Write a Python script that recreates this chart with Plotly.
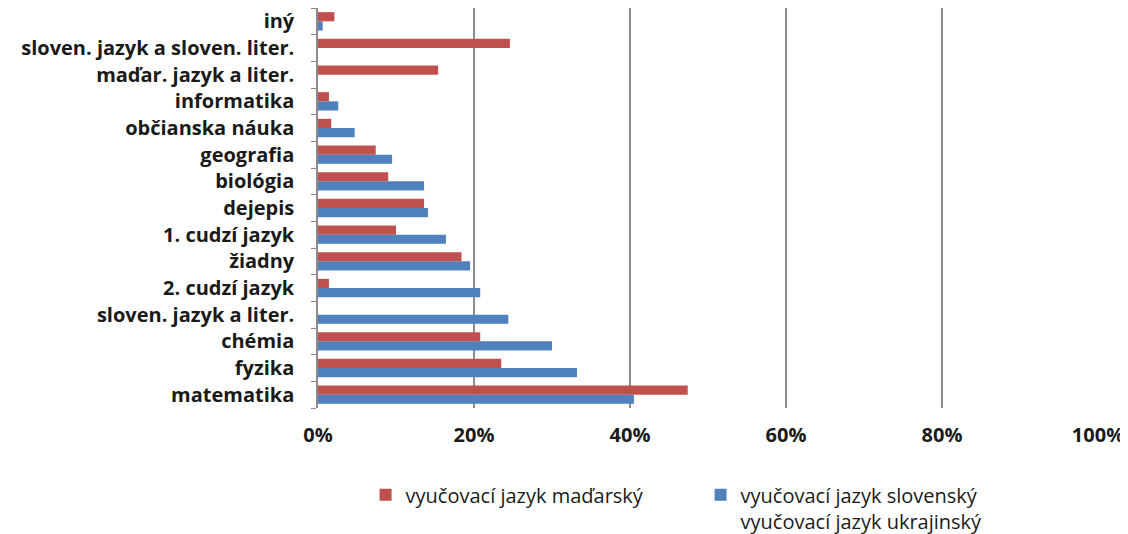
import plotly.graph_objects as go

categories = ["matematika", "fyzika", "chémia", "sloven. jazyk a liter.", "2. cudzí jazyk",
              "žiadny", "1. cudzí jazyk", "dejepis", "biológia", "geografia",
              "občianska náuka", "informatika", "maďar. jazyk a liter.",
              "sloven. jazyk a sloven. liter.", "iný"]
madarsky = [47.4, 23.5, 20.8, 0.0, 1.4, 18.4, 10.0, 13.6, 9.0, 7.4, 1.7, 1.4, 15.4, 24.6, 2.1]
slovensky = [40.5, 33.2, 30.0, 24.4, 20.8, 19.5, 16.4, 14.1, 13.6, 9.5, 4.7, 2.6, 0.0, 0.0, 0.6]
x_ticks = [0, 20, 40, 60, 80, 100]
x_labels = ["0%", "20%", "40%", "60%", "80%", "100%"]

RED = "#C0504D"
BLUE = "#4F81BD"

fig = go.Figure()
fig.add_trace(go.Bar(
    y=categories, x=slovensky, orientation="h",
    name="vyučovací jazyk slovenský<br>vyučovací jazyk ukrajinský",
    marker=dict(color=BLUE, line=dict(width=0)), legendrank=2,
))
fig.add_trace(go.Bar(
    y=categories, x=madarsky, orientation="h",
    name="vyučovací jazyk maďarský",
    marker=dict(color=RED, line=dict(width=0)), legendrank=1,
))

fig.update_layout(
    width=1128, height=534,
    margin=dict(l=310, r=38, t=0, b=134, autoexpand=False),
    paper_bgcolor="white", plot_bgcolor="white",
    barmode="group", bargap=0.31, bargroupgap=0,
    font=dict(family="Open Sans", size=18, color="#1a1a1a"),
    showlegend=True,
    legend=dict(orientation="h", x=0.061, xanchor="left", y=-0.168, yanchor="top",
                valign="top", font=dict(family="Open Sans", size=20, color="#1a1a1a"),
                itemwidth=30, tracegroupgap=0, entrywidth=290),
    xaxis=dict(range=[0, 100], tickvals=x_ticks, ticktext=x_labels,
               showgrid=True, gridcolor="#8c8c8c", gridwidth=1.5,
               zeroline=False, showline=False, ticks="",
               tickfont=dict(family="Open Sans", size=20, color="#1a1a1a", weight="bold"),
               ticklabelstandoff=13, fixedrange=True),
    yaxis=dict(type="category", categoryorder="array", categoryarray=categories,
               showline=True, linecolor="#8c8c8c", linewidth=1.5,
               ticks="outside", ticklen=5, tickcolor="#8c8c8c", tickson="boundaries",
               showgrid=False, zeroline=False,
               tickfont=dict(family="Open Sans", size=20, color="#1a1a1a", weight="bold"),
               ticklabelstandoff=18, fixedrange=True),
)

fig.write_html("out.html")
